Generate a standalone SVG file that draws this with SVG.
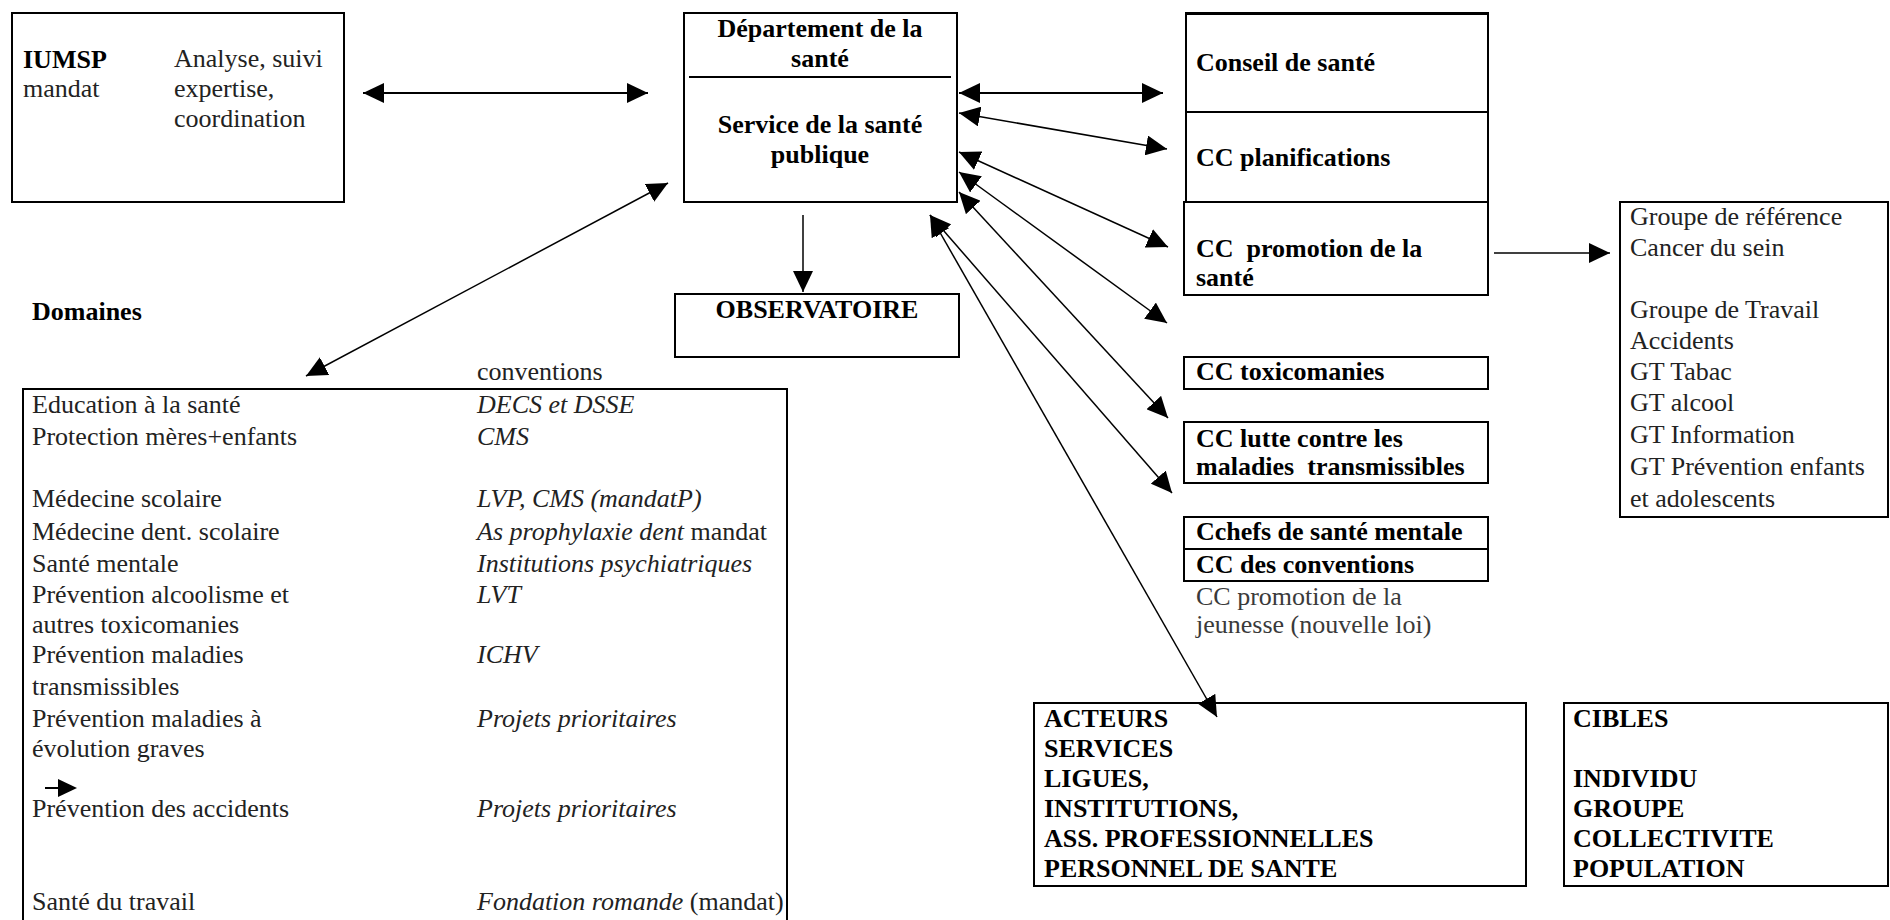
<svg xmlns="http://www.w3.org/2000/svg" width="1890" height="920" viewBox="0 0 1890 920">
<style>
.box{fill:#fff;stroke:#000;stroke-width:2}
.t{font-family:"Liberation Serif","Times New Roman",serif;font-size:26px;fill:#222;white-space:pre}
.b{font-weight:bold;fill:#000}
.i{font-style:italic}
.g{fill:#3a3a3a}
.c{stroke:#000;stroke-width:1.5;fill:none}
</style>
<defs>
<marker id="ah" viewBox="0 0 21 20" refX="21" refY="10" markerWidth="21" markerHeight="20" markerUnits="userSpaceOnUse" orient="auto-start-reverse">
<path d="M0,0 L21,10 L0,20 z" fill="#000"/>
</marker>
</defs>
<rect width="1890" height="920" fill="#fff"/>

<g id="iumsp">
<rect class="box" x="12" y="13" width="332" height="189"/>
<text class="t b" x="23" y="68">IUMSP</text>
<text class="t" x="23" y="97">mandat</text>
<text class="t" x="174" y="67">Analyse, suivi</text>
<text class="t" x="174" y="97">expertise,</text>
<text class="t" x="174" y="127">coordination</text>
</g>

<g id="departement">
<rect class="box" x="684" y="13" width="273" height="189"/>
<line x1="689" y1="77" x2="951" y2="77" stroke="#000" stroke-width="2"/>
<text class="t b" x="820" y="37" text-anchor="middle">Département de la</text>
<text class="t b" x="820" y="67" text-anchor="middle">santé</text>
<text class="t b" x="820" y="133" text-anchor="middle">Service de la santé</text>
<text class="t b" x="820" y="163" text-anchor="middle">publique</text>
</g>

<g id="observatoire">
<rect class="box" x="675" y="294" width="284" height="63"/>
<text class="t b" x="817" y="318" text-anchor="middle">OBSERVATOIRE</text>
</g>

<g id="domaines">
<text class="t b" x="32" y="320">Domaines</text>
<text class="t" x="477" y="380">conventions</text>
<path d="M23,925 V389 H787 V925" fill="none" stroke="#000" stroke-width="2"/>
<text class="t" x="32" y="413">Education à la santé</text>
<text class="t" x="32" y="445">Protection mères+enfants</text>
<text class="t" x="32" y="507">Médecine scolaire</text>
<text class="t" x="32" y="540">Médecine dent. scolaire</text>
<text class="t" x="32" y="572">Santé mentale</text>
<text class="t" x="32" y="603">Prévention alcoolisme et</text>
<text class="t" x="32" y="633">autres toxicomanies</text>
<text class="t" x="32" y="663">Prévention maladies</text>
<text class="t" x="32" y="695">transmissibles</text>
<text class="t" x="32" y="727">Prévention maladies à</text>
<text class="t" x="32" y="757">évolution graves</text>
<path d="M45,788 H60" stroke="#000" stroke-width="2"/>
<path d="M58,779 L77,788 L58,797 z" fill="#000"/>
<text class="t" x="32" y="817">Prévention des accidents</text>
<text class="t" x="32" y="910">Santé du travail</text>
<text class="t i" x="477" y="413">DECS et DSSE</text>
<text class="t i" x="477" y="445">CMS</text>
<text class="t i" x="477" y="507">LVP, CMS (mandatP)</text>
<text class="t" x="477" y="540"><tspan class="i">As prophylaxie dent</tspan> mandat</text>
<text class="t i" x="477" y="572">Institutions psychiatriques</text>
<text class="t i" x="477" y="603">LVT</text>
<text class="t i" x="477" y="663">ICHV</text>
<text class="t i" x="477" y="727">Projets prioritaires</text>
<text class="t i" x="477" y="817">Projets prioritaires</text>
<text class="t" x="477" y="910"><tspan class="i">Fondation romande</tspan> (mandat)</text>
</g>

<g id="conseil">
<rect class="box" x="1186" y="13" width="302" height="99"/>
<line x1="1185" y1="13.5" x2="1489" y2="13.5" stroke="#000" stroke-width="3"/>
<text class="t b" x="1196" y="71">Conseil de santé</text>
</g>
<g id="cc-planifications">
<rect class="box" x="1186" y="112" width="302" height="90"/>
<text class="t b" x="1196" y="166">CC planifications</text>
</g>
<g id="cc-promotion">
<rect class="box" x="1184" y="202" width="304" height="93"/>
<text class="t b" x="1196" y="257">CC  promotion de la</text>
<text class="t b" x="1196" y="286">santé</text>
</g>
<g id="cc-toxicomanies">
<rect class="box" x="1184" y="357" width="304" height="32"/>
<text class="t b" x="1196" y="380">CC toxicomanies</text>
</g>
<g id="cc-lutte">
<rect class="box" x="1184" y="422" width="304" height="61"/>
<text class="t b" x="1196" y="447">CC lutte contre les</text>
<text class="t b" x="1196" y="475">maladies  transmissibles</text>
</g>
<g id="cc-chefs">
<rect class="box" x="1184" y="517" width="304" height="32"/>
<text class="t b" x="1196" y="540">Cchefs de santé mentale</text>
</g>
<g id="cc-conventions">
<rect class="box" x="1184" y="549" width="304" height="32"/>
<text class="t b" x="1196" y="573">CC des conventions</text>
</g>
<g id="cc-jeunesse">
<text class="t g" x="1196" y="605">CC promotion de la</text>
<text class="t g" x="1196" y="633">jeunesse (nouvelle loi)</text>
</g>

<g id="groupes">
<rect class="box" x="1620" y="202" width="268" height="315"/>
<text class="t" x="1630" y="225">Groupe de référence</text>
<text class="t" x="1630" y="256">Cancer du sein</text>
<text class="t" x="1630" y="318">Groupe de Travail</text>
<text class="t" x="1630" y="349">Accidents</text>
<text class="t" x="1630" y="380">GT Tabac</text>
<text class="t" x="1630" y="411">GT alcool</text>
<text class="t" x="1630" y="443">GT Information</text>
<text class="t" x="1630" y="475">GT Prévention enfants</text>
<text class="t" x="1630" y="507">et adolescents</text>
</g>

<g id="acteurs">
<rect class="box" x="1034" y="703" width="492" height="183"/>
<text class="t b" x="1044" y="727">ACTEURS</text>
<text class="t b" x="1044" y="757">SERVICES</text>
<text class="t b" x="1044" y="787">LIGUES,</text>
<text class="t b" x="1044" y="817">INSTITUTIONS,</text>
<text class="t b" x="1044" y="847">ASS. PROFESSIONNELLES</text>
<text class="t b" x="1044" y="877">PERSONNEL DE SANTE</text>
</g>

<g id="cibles">
<rect class="box" x="1564" y="703" width="324" height="183"/>
<text class="t b" x="1573" y="727">CIBLES</text>
<text class="t b" x="1573" y="787">INDIVIDU</text>
<text class="t b" x="1573" y="817">GROUPE</text>
<text class="t b" x="1573" y="847">COLLECTIVITE</text>
<text class="t b" x="1573" y="877">POPULATION</text>
</g>

<g id="connectors" class="c">
<line x1="363" y1="93" x2="648" y2="93" stroke-width="2" marker-start="url(#ah)" marker-end="url(#ah)"/>
<line x1="668" y1="183" x2="306" y2="376" marker-start="url(#ah)" marker-end="url(#ah)"/>
<line x1="803" y1="215" x2="803" y2="292" marker-end="url(#ah)"/>
<line x1="959" y1="93" x2="1163" y2="93" stroke-width="2" marker-start="url(#ah)" marker-end="url(#ah)"/>
<line x1="959" y1="113" x2="1167" y2="149" marker-start="url(#ah)" marker-end="url(#ah)"/>
<line x1="959" y1="152" x2="1168" y2="247" marker-start="url(#ah)" marker-end="url(#ah)"/>
<line x1="959" y1="172" x2="1167" y2="323" marker-start="url(#ah)" marker-end="url(#ah)"/>
<line x1="959" y1="192" x2="1168" y2="418" marker-start="url(#ah)" marker-end="url(#ah)"/>
<line x1="930" y1="215" x2="1172" y2="493" marker-start="url(#ah)" marker-end="url(#ah)"/>
<line x1="930" y1="215" x2="1217" y2="717" marker-start="url(#ah)" marker-end="url(#ah)"/>
<line x1="1494" y1="253" x2="1610" y2="253" marker-end="url(#ah)"/>
</g>
</svg>
